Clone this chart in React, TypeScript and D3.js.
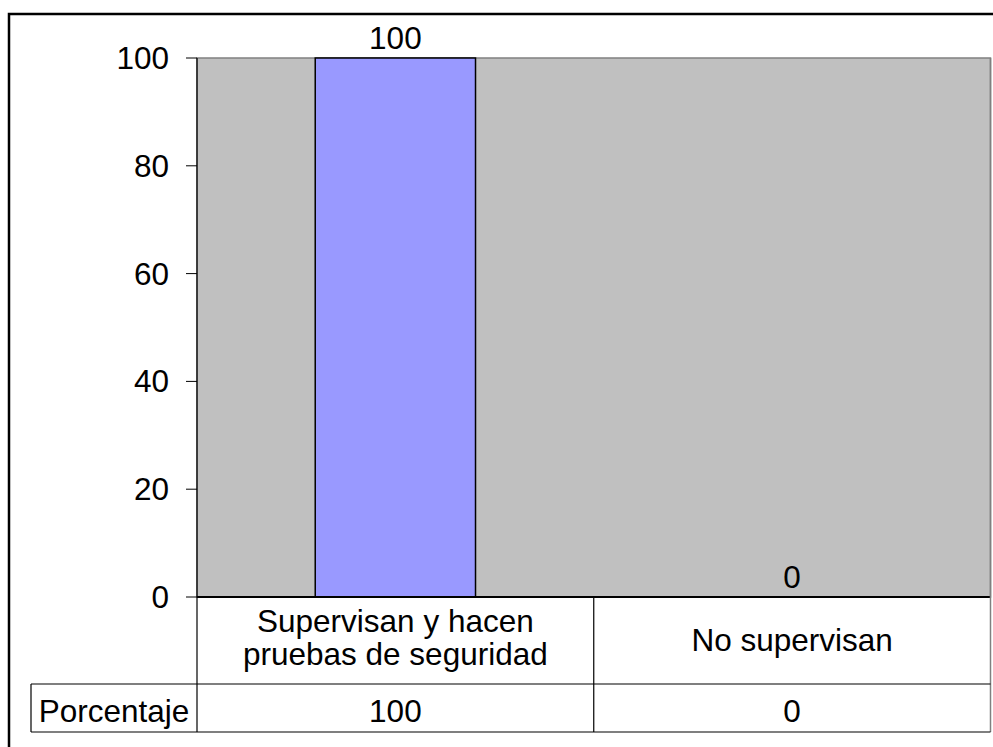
import React from "react";
import * as d3 from "d3";

const categories = ["Supervisan y hacen\npruebas de seguridad", "No supervisan"];
const values = [100, 0];
const seriesName = "Porcentaje";
const yTicks = [0, 20, 40, 60, 80, 100];

export default function App() {
  const W = 993, H = 747;
  const left = 197, right = 990.5, top = 58, bottom = 597;
  const row1 = 684, row2 = 732, tableLeft = 31;
  const x = d3.scaleBand<string>().domain(categories).range([left, right]).paddingInner(0).paddingOuter(0);
  const y = d3.scaleLinear().domain([0, 100]).range([bottom, top]);
  const barW = x.bandwidth() * 0.404;
  const font = "'Liberation Sans', Arial, sans-serif";
  const fs = 31.5;
  return (
    <svg width={W} height={H} style={{ position: "absolute", left: 0, top: 0 }} fontFamily={font}>
      <rect x={0} y={0} width={W} height={H} fill="#fff" />
      <rect x={9} y={14} width={1100} height={1100} fill="none" stroke="#000" strokeWidth={2.5} />
      {/* plot area */}
      <rect x={left} y={top} width={right - left} height={bottom - top} fill="#c0c0c0" stroke="#808080" strokeWidth={1.5} />
      {/* bars */}
      {categories.map((c, i) => {
        const cx = (x(c) as number) + x.bandwidth() / 2;
        return values[i] > 0 ? (
          <rect key={c} x={cx - barW / 2} y={y(values[i])} width={barW} height={y(0) - y(values[i])} fill="#9999ff" stroke="#000" strokeWidth={1.5} />
        ) : null;
      })}
      {/* data labels */}
      {categories.map((c, i) => {
        const cx = (x(c) as number) + x.bandwidth() / 2;
        return (
          <text key={c} x={cx} y={y(values[i]) - 9.5} textAnchor="middle" fontSize={fs} fill="#000">{values[i]}</text>
        );
      })}
      {/* y axis */}
      <line x1={left} x2={left} y1={top} y2={bottom} stroke="#000" strokeWidth={1.2} />
      {yTicks.map((t) => (
        <g key={t}>
          <line x1={left - 11} x2={left} y1={y(t)} y2={y(t)} stroke="#000" strokeWidth={1} />
          <text x={169} y={y(t) + 11} textAnchor="end" fontSize={fs} fill="#000">{t}</text>
        </g>
      ))}
      {/* data table */}
      <g stroke="#000" strokeWidth={1.2} fill="none">
        <line x1={left} x2={right} y1={bottom} y2={bottom} strokeWidth={2} />
        <line x1={left} x2={left} y1={bottom} y2={row2} />
        <line x1={right} x2={right} y1={top} y2={row2} stroke="#808080" strokeWidth={1.5} />
        <line x1={x(categories[1]) as number} x2={x(categories[1]) as number} y1={bottom} y2={row2} />
        <line x1={tableLeft} x2={right} y1={row1} y2={row1} />
        <line x1={tableLeft} x2={right} y1={row2} y2={row2} />
        <line x1={tableLeft} x2={tableLeft} y1={row1} y2={row2} />
      </g>
      {categories.map((c) => {
        const cx = (x(c) as number) + x.bandwidth() / 2;
        const lines = c.split("\n");
        const lh = 33;
        const mid = (bottom + row1) / 2;
        const first = mid - ((lines.length - 1) * lh) / 2 + (lines.length > 1 ? 8 : 10);
        return (
          <text key={c} textAnchor="middle" fontSize={fs} fill="#000">
            {lines.map((l, j) => (
              <tspan key={j} x={cx} y={first + j * lh}>{l}</tspan>
            ))}
          </text>
        );
      })}
      <text x={(tableLeft + left) / 2} y={(row1 + row2) / 2 + 14} textAnchor="middle" fontSize={fs} fill="#000">{seriesName}</text>
      {categories.map((c, i) => {
        const cx = (x(c) as number) + x.bandwidth() / 2;
        return (
          <text key={c} x={cx} y={(row1 + row2) / 2 + 14} textAnchor="middle" fontSize={fs} fill="#000">{values[i]}</text>
        );
      })}
    </svg>
  );
}
